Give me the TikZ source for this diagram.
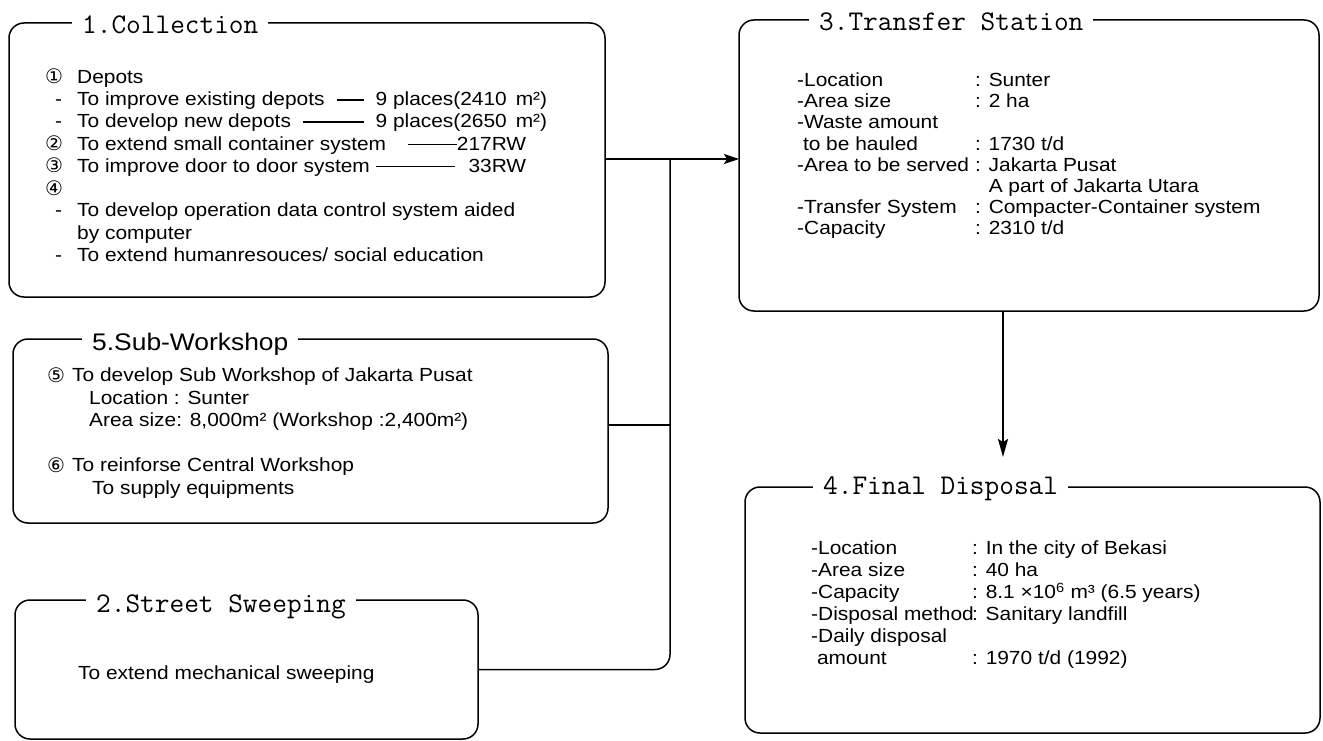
\documentclass[tikz,border=0pt]{standalone}
\usepackage{fontspec}
\usetikzlibrary{arrows.meta}
\newfontfamily\bodyfont{Liberation Sans}[FakeStretch=1.1]
\newfontfamily\circfont{DejaVu Sans}
% circled item number followed by a fixed gap
\newcommand\cn[2][30pt]{\makebox[#1][l]{\raisebox{-0.5pt}{\circfont\fontsize{20}{20}\selectfont #2}}}
% dash bullet
\newcommand\dl{\makebox[30pt][l]{\hspace{8pt}-}}
% mid-height leader line
\newcommand\leaderline{\leaders\hrule height 6.6pt depth -5.2pt\hfill}
% label / value pair with the value column at a fixed offset
\newcommand\kv[3][178pt]{\makebox[#1][l]{#2}#3}
\begin{document}
\begin{tikzpicture}[x=1pt,y=-1pt,
  box/.style={draw, line width=1.5pt, rounded corners=15pt, inner sep=0pt, outer sep=0pt, anchor=north west},
  ttl/.style={fill=white, inner xsep=10pt, inner ysep=1pt, text depth=0pt, anchor=west,
              font=\fontsize{28.5}{30}\selectfont\ttfamily},
  sttl/.style={fill=white, inner xsep=10pt, inner ysep=1pt, text depth=0pt, anchor=west,
              font=\bodyfont\fontsize{24}{26}\selectfont},
  body/.style={inner sep=0pt, anchor=base west},
  conn/.style={line width=1.5pt}]
\useasboundingbox (0,0) rectangle (1323,741);

% frames
\node[box, minimum width=596pt, minimum height=274pt] (col) at (9,23) {};
\node[box, minimum width=595pt, minimum height=184pt] (sub) at (13,339) {};
\node[box, minimum width=463pt, minimum height=139pt] (sw)  at (15,600) {};
\node[box, minimum width=580pt, minimum height=291pt] (ts)  at (739,20) {};
\node[box, minimum width=575pt, minimum height=246pt] (fd)  at (745,487) {};

% frame titles
\node[ttl]  (colh) at (72,25)  {1.Collection};
\node[sttl] (subh) at (82,342) {5.Sub-Workshop};
\node[ttl]  (swh)  at (86,604) {2.Street Sweeping};
\node[ttl]  (tsh)  at (809,22) {3.Transfer Station};
\node[ttl]  (fdh)  at (813,486) {4.Final Disposal};

% 1. Collection
\node[body] (colt) at (45,83.5) {\bodyfont\fontsize{19}{22.25}\selectfont
\begin{tabular}[t]{@{}l@{}}
\cn[32pt]{①}Depots\\
\hspace{2pt}\dl\hbox to 470pt{To improve existing depots\hspace{12pt}\leaderline\hspace{12pt}9 places(2410 \,m²)}\\
\hspace{2pt}\dl\hbox to 470pt{To develop new depots\hspace{12pt}\leaderline\hspace{12pt}9 places(2650 \,m²)}\\
\cn[32pt]{②}\hbox to 449pt{To extend small container system\hspace{22pt}\leaderline217RW}\\
\cn[32pt]{③}\hbox to 449pt{To improve door to door system\hspace{6pt}\leaderline\hspace{14pt}33RW}\\
\cn[32pt]{④}\\
\hspace{2pt}\dl To develop operation data control system aided\\
\hspace{32pt}by computer\\
\hspace{2pt}\dl To extend humanresouces/ social education
\end{tabular}};

% 5. Sub-Workshop
\node[body] (subt) at (47,381.5) {\bodyfont\fontsize{19}{22.6}\selectfont
\begin{tabular}[t]{@{}l@{}}
\cn[25pt]{⑤}To develop Sub Workshop of Jakarta Pusat\\
\hspace{42pt}Location : Sunter\\
\hspace{42pt}Area size: 8,000m² (Workshop :2,400m²)\\
\\
\cn[25pt]{⑥}To reinforse Central Workshop\\
\hspace{45pt}To supply equipments
\end{tabular}};

% 2. Street Sweeping
\node[body] (swt) at (78,679.5) {\bodyfont\fontsize{19}{22}\selectfont To extend mechanical sweeping};

% 3. Transfer Station
\node[body] (tst) at (797,86.5) {\bodyfont\fontsize{19}{21.2}\selectfont
\begin{tabular}[t]{@{}l@{}}
\kv{-Location}{: Sunter}\\
\kv{-Area size}{: 2 ha}\\
-Waste amount\\
\kv{\ to be hauled}{: 1730 t/d}\\
\kv{-Area to be served}{: Jakarta Pusat}\\
\kv{}{\phantom{: }A part of Jakarta Utara}\\
\kv{-Transfer System}{: Compacter-Container system}\\
\kv{-Capacity}{: 2310 t/d}
\end{tabular}};

% 4. Final Disposal
\node[body] (fdt) at (811,554.5) {\bodyfont\fontsize{19}{22}\selectfont
\begin{tabular}[t]{@{}l@{}}
\kv[161pt]{-Location}{: In the city of Bekasi}\\
\kv[161pt]{-Area size}{: 40 ha}\\
\kv[161pt]{-Capacity}{: 8.1 ×10\textsuperscript{6} m³ (6.5 years)}\\
\kv[161pt]{-Disposal method}{: Sanitary landfill}\\
-Daily disposal\\
\kv[161pt]{\ amount}{: 1970 t/d (1992)}
\end{tabular}};

% connectors
\coordinate (jn) at (670,159);
\coordinate (ax) at (1003,0);
\draw[conn, -{Stealth[length=15pt,width=10pt,inset=3pt]}] (col.east |- jn) -- (ts.west |- jn);
\draw[conn, rounded corners=15pt] (jn) |- (sw.east);
\draw[conn] ([yshift=6pt]sub.east) -- ([yshift=6pt]sub.east -| jn);
\draw[conn, shorten >=30pt, -{Stealth[length=18pt,width=10pt,inset=3pt]}] (ts.south -| ax) -- (fd.north -| ax);
\end{tikzpicture}
\end{document}
